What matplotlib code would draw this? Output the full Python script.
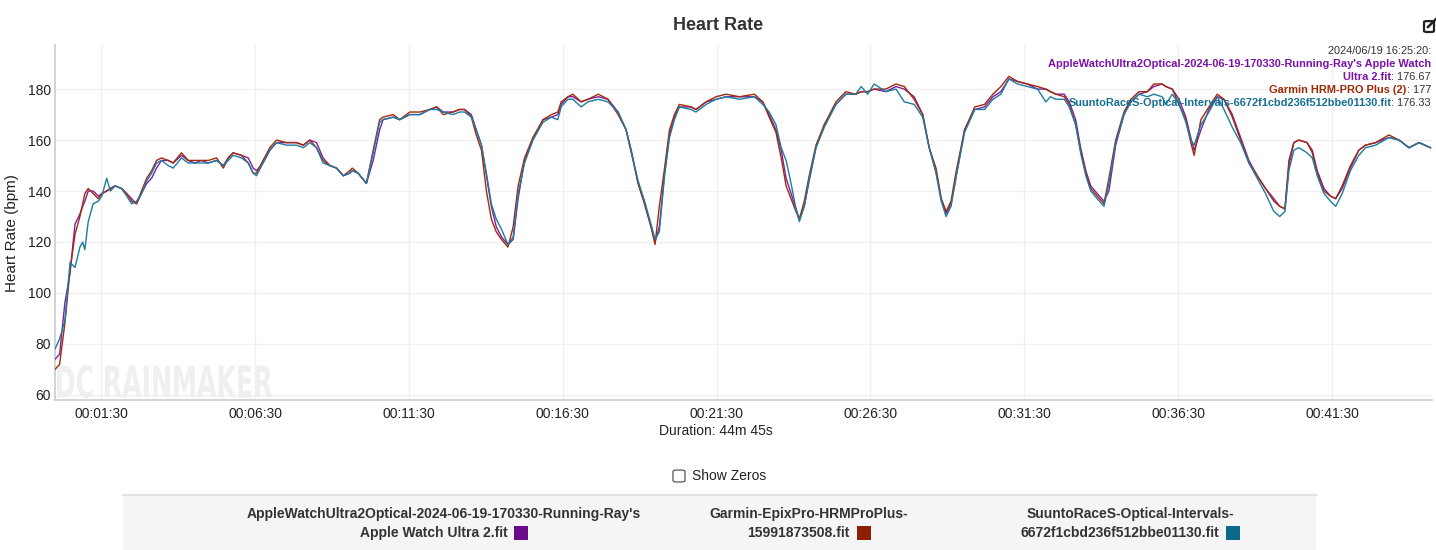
import matplotlib
matplotlib.use("Agg")
import matplotlib.pyplot as plt
import numpy as np
from matplotlib.patches import Rectangle, FancyBboxPatch, PathPatch
from matplotlib.textpath import TextPath
from matplotlib.font_manager import FontProperties
from matplotlib.transforms import Affine2D

W, H = 1436, 550
plt.rcParams["font.family"] = ["Liberation Sans", "DejaVu Sans"]

# elapsed time (minutes) shared by the three recordings
TIME_MIN = [
    0.00, 0.15, 0.32, 0.49, 0.65, 0.81, 0.90, 0.97, 1.08, 1.24,
    1.41, 1.52, 1.68, 1.80, 1.95, 2.16, 2.33, 2.49, 2.65, 2.81,
    2.98, 3.14, 3.30, 3.46, 3.68, 3.84, 4.11, 4.33, 4.55, 4.76,
    4.98, 5.25, 5.47, 5.63, 5.79, 6.06, 6.28, 6.44, 6.55, 6.76,
    6.98, 7.20, 7.52, 7.85, 8.07, 8.28, 8.50, 8.71, 8.93, 9.15,
    9.37, 9.58, 9.66, 9.85, 10.12, 10.34, 10.55, 10.66, 10.99, 11.20,
    11.53, 11.86, 12.18, 12.40, 12.62, 12.93, 13.15, 13.31, 13.53, 13.69,
    13.86, 14.02, 14.18, 14.34, 14.51, 14.72, 14.89, 15.05, 15.26, 15.53,
    15.86, 16.13, 16.34, 16.45, 16.67, 16.83, 17.10, 17.32, 17.66, 17.97,
    18.30, 18.56, 18.73, 18.95, 19.16, 19.37, 19.50, 19.64, 19.81, 19.97,
    20.13, 20.29, 20.67, 20.83, 21.16, 21.48, 21.81, 22.24, 22.73, 23.00,
    23.21, 23.43, 23.60, 23.76, 23.92, 24.08, 24.19, 24.35, 24.51, 24.73,
    25.00, 25.38, 25.70, 26.02, 26.20, 26.41, 26.62, 27.00, 27.33, 27.60,
    27.92, 28.20, 28.41, 28.63, 28.80, 28.96, 29.12, 29.29, 29.56, 29.89,
    30.21, 30.48, 30.74, 31.00, 31.28, 31.60, 31.93, 32.20, 32.35, 32.53,
    32.80, 32.96, 33.17, 33.33, 33.50, 33.66, 33.87, 34.09, 34.25, 34.47,
    34.74, 34.96, 35.23, 35.50, 35.71, 35.98, 36.10, 36.31, 36.53, 36.75,
    36.91, 37.02, 37.24, 37.50, 37.77, 37.99, 38.26, 38.53, 38.80, 39.07,
    39.34, 39.61, 39.80, 39.97, 40.10, 40.26, 40.42, 40.69, 40.86, 41.02,
    41.24, 41.45, 41.62, 41.83, 42.10, 42.37, 42.59, 42.92, 43.35, 43.68,
    44.00, 44.33, 44.70,
]

HR_APPLE = [
    74, 76, 96, 108, 127, 131, 134, 136, 140, 140,
    138, 139, 140, 141, 142, 141, 139, 137, 135, 139,
    143, 145, 149, 152, 152, 151, 154, 152, 151, 152,
    151, 152, 150, 153, 155, 154, 153, 149, 148, 151,
    156, 159, 159, 159, 158, 160, 159, 153, 150, 149,
    146, 147, 148, 147, 143, 152, 164, 168, 169, 168,
    170, 170, 172, 173, 171, 171, 172, 172, 170, 164,
    158, 146, 134, 126, 122, 119, 121, 137, 152, 160,
    168, 169, 170, 174, 177, 177, 175, 176, 177, 176,
    171, 164, 156, 143, 135, 126, 120, 126, 147, 162,
    169, 173, 173, 172, 175, 176, 177, 177, 177, 175,
    170, 164, 156, 145, 139, 133, 129, 134, 144, 157,
    166, 174, 178, 178, 179, 179, 180, 179, 181, 180,
    177, 170, 157, 148, 137, 131, 135, 146, 164, 172,
    173, 177, 179, 184, 183, 182, 180, 180, 179, 178,
    178, 175, 168, 157, 148, 142, 139, 136, 140, 158,
    170, 175, 178, 179, 181, 182, 181, 180, 176, 169,
    161, 156, 164, 172, 177, 176, 170, 161, 152, 146,
    141, 137, 134, 133, 150, 159, 160, 159, 156, 148,
    141, 138, 137, 141, 149, 156, 158, 159, 161, 160,
    157, 159, 157,
]

HR_GARMIN = [
    70, 72, 88, 109, 123, 130, 135, 139, 141, 139,
    137, 139, 140, 141, 142, 141, 139, 136, 135, 140,
    145, 148, 152, 153, 152, 151, 155, 152, 152, 152,
    152, 153, 149, 153, 155, 154, 151, 147, 147, 152,
    157, 160, 159, 159, 158, 160, 157, 152, 150, 149,
    146, 148, 149, 147, 143, 156, 168, 169, 170, 168,
    171, 171, 172, 173, 170, 171, 172, 172, 169, 162,
    156, 140, 129, 124, 121, 118, 126, 142, 153, 161,
    168, 170, 171, 175, 177, 178, 175, 176, 178, 176,
    170, 164, 155, 143, 135, 126, 119, 134, 149, 164,
    170, 174, 173, 172, 175, 177, 178, 177, 178, 175,
    169, 163, 153, 142, 137, 132, 129, 136, 146, 158,
    166, 175, 179, 178, 179, 179, 180, 180, 182, 181,
    176, 170, 157, 149, 137, 132, 136, 148, 164, 173,
    174, 178, 181, 185, 183, 182, 181, 180, 179, 178,
    177, 174, 166, 156, 147, 141, 138, 135, 145, 160,
    171, 176, 179, 179, 182, 182, 181, 180, 174, 168,
    159, 154, 168, 173, 178, 176, 169, 160, 151, 146,
    141, 136, 134, 133, 152, 159, 160, 159, 155, 147,
    140, 138, 137, 142, 150, 156, 158, 159, 162, 160,
    157, 159, 157,
]

HR_SUUNTO = [
    78, 82, 89, 112, 110, 118, 120, 117, 128, 135,
    136, 138, 145, 140, 142, 141, 138, 135, 136, 139,
    144, 147, 151, 152, 150, 149, 153, 151, 151, 151,
    151, 152, 150, 152, 154, 153, 151, 147, 146, 151,
    156, 159, 158, 158, 157, 159, 157, 151, 150, 149,
    146, 147, 148, 147, 143, 155, 167, 168, 169, 168,
    170, 170, 172, 172, 171, 170, 171, 171, 169, 164,
    158, 147, 135, 129, 125, 119, 122, 139, 151, 160,
    167, 169, 168, 173, 176, 176, 173, 175, 176, 175,
    171, 164, 155, 144, 136, 127, 121, 124, 146, 161,
    168, 173, 172, 171, 174, 176, 177, 176, 177, 174,
    171, 166, 157, 152, 143, 133, 128, 134, 145, 157,
    165, 174, 178, 178, 181, 178, 182, 179, 180, 175,
    174, 169, 157, 147, 136, 130, 134, 146, 163, 172,
    172, 176, 178, 184, 182, 181, 180, 175, 177, 176,
    176, 173, 166, 155, 146, 140, 137, 134, 143, 159,
    170, 175, 178, 177, 178, 177, 174, 178, 174, 167,
    160, 158, 166, 171, 177, 172, 165, 159, 151, 145,
    139, 132, 130, 132, 148, 156, 157, 155, 153, 146,
    139, 136, 134, 139, 148, 154, 157, 158, 161, 160,
    157, 159, 157,
]

LEGEND_LINES = [
    ("AppleWatchUltra2Optical-2024-06-19-170330-Running-Ray's", "Apple Watch Ultra 2.fit"),
    ("Garmin-EpixPro-HRMProPlus-", "15991873508.fit"),
    ("SuuntoRaceS-Optical-Intervals-", "6672f1cbd236f512bbe01130.fit"),
]
TOOLTIP_TIME = "2024/06/19 16:25:20:"
TOOLTIP_FIRST = "AppleWatchUltra2Optical-2024-06-19-170330-Running-Ray's Apple Watch"
TOOLTIP_ROWS = [
    ("Ultra 2.fit", ": 176.67"),
    ("Garmin HRM-PRO Plus (2)", ": 177"),
    ("SuuntoRaceS-Optical-Intervals-6672f1cbd236f512bbe01130.fit", ": 176.33"),
]

X_TICK_LABELS = ["00:01:30", "00:06:30", "00:11:30", "00:16:30", "00:21:30",
                 "00:26:30", "00:31:30", "00:36:30", "00:41:30"]
Y_TICKS = [60, 80, 100, 120, 140, 160, 180]
DURATION_MIN = 44.75

LINE_COLORS = ["#7e1fa6", "#a3290b", "#1c7d9d"]
SWATCH_COLORS = ["#6b0a8a", "#8b2000", "#0b6a8a"]
TIP_COLORS = ["#7a12a8", "#9b2a06", "#176f93"]

assert len(TIME_MIN) == len(HR_APPLE) == len(HR_GARMIN) == len(HR_SUUNTO)


def fx(x):
    return x / W


def fy(y):
    return 1 - y / H


def tick_minutes(label):
    h, m, s = (int(p) for p in label.split(":"))
    return h * 60 + m + s / 60


fig = plt.figure(figsize=(W / 100, H / 100), dpi=100)
ax = fig.add_axes([fx(55), fy(400), fx(1432) - fx(55), fy(45) - fy(400)])

t = np.array(TIME_MIN)
for hr, col in zip([HR_APPLE, HR_GARMIN, HR_SUUNTO], LINE_COLORS):
    ax.plot(t, hr, color=col, linewidth=1.0, zorder=3)

ax.set_xlim(0, DURATION_MIN)
ax.set_ylim(58, 197.3)
ax.set_xticks([tick_minutes(l) for l in X_TICK_LABELS])
ax.set_xticklabels(X_TICK_LABELS)
ax.set_yticks(Y_TICKS)
ax.tick_params(axis="both", length=0, labelsize=10, colors="#222222")
ax.tick_params(axis="x", pad=5)
ax.tick_params(axis="y", pad=3)
ax.grid(True, color="#f0f0f0", linewidth=1.0, zorder=0)
for side in ["top", "right"]:
    ax.spines[side].set_visible(False)
for side in ["left", "bottom"]:
    ax.spines[side].set_color("#cccccc")
    ax.spines[side].set_linewidth(1.2)

fig.text(fx(12), fy(233), "Heart Rate (bpm)", rotation=90, ha="center",
         va="center", fontsize=11, color="#222222")

# watermark
tp = TextPath((0, 0), "DC RAINMAKER", size=1,
              prop=FontProperties(family="DejaVu Sans", weight="bold"))
ext = tp.get_extents()
sx = (fx(272) - fx(57)) / ext.width
sy = (fy(365) - fy(398)) / ext.height
tr = Affine2D().translate(-ext.x0, -ext.y0).scale(sx, sy).translate(fx(57), fy(398))
ax.add_patch(PathPatch(tp, transform=tr + fig.transFigure, facecolor="#efefef",
                       edgecolor="none", zorder=1, clip_on=False))

fig.text(0.5, fy(26), "Heart Rate", ha="center", va="center", fontsize=13,
         fontweight="bold", color="#333333")
fig.text(fx(716), fy(431), "Duration: 44m 45s", ha="center", va="center",
         fontsize=10, color="#222222")

# edit icon top right
fig.patches.append(FancyBboxPatch((fx(1424), fy(32)), fx(10), fy(20) - fy(32) - 0.002,
                                  boxstyle="round,pad=0,rounding_size=0.002",
                                  transform=fig.transFigure, facecolor="none",
                                  edgecolor="#222222", linewidth=1.6))
fig.lines.append(plt.Line2D([fx(1428), fx(1436)], [fy(27), fy(19)],
                            transform=fig.transFigure, color="#222222", linewidth=1.8))

fig.canvas.draw()
renderer = fig.canvas.get_renderer()


def right_rich(y, parts, size):
    """parts laid out right to left, ending at x=1431 px."""
    x_right = 1431
    for text, color, weight in reversed(parts):
        tt = fig.text(fx(x_right), fy(y), text, ha="right", va="center",
                      fontsize=size, color=color, fontweight=weight)
        x_right -= tt.get_window_extent(renderer).width


tip_size = 7.9
right_rich(51, [(TOOLTIP_TIME, "#333333", "normal")], tip_size)
right_rich(64, [(TOOLTIP_FIRST, TIP_COLORS[0], "bold")], tip_size)
for i, (label, val) in enumerate(TOOLTIP_ROWS):
    right_rich(77 + 13 * i, [(label, TIP_COLORS[i], "bold"), (val, "#333333", "normal")],
               tip_size)

# show zeros checkbox
fig.patches.append(FancyBboxPatch((fx(673), fy(482)), fx(12), fy(470) - fy(482),
                                  boxstyle="round,pad=0,rounding_size=0.003",
                                  transform=fig.transFigure, facecolor="white",
                                  edgecolor="#666666", linewidth=1.0))
fig.text(fx(692), fy(476), "Show Zeros", ha="left", va="center", fontsize=10,
         color="#222222")

# legend panel
fig.patches.append(Rectangle((fx(123), 0), fx(1316) - fx(123), fy(495),
                             transform=fig.transFigure, facecolor="#f5f5f5",
                             edgecolor="none"))
fig.lines.append(plt.Line2D([fx(123), fx(1316)], [fy(495), fy(495)],
                            transform=fig.transFigure, color="#e2e2e2", linewidth=1.5))

centers = [444, 809, 1130]
leg_size = 10
for (l1, l2), cx, sw in zip(LEGEND_LINES, centers, SWATCH_COLORS):
    fig.text(fx(cx), fy(514), l1, ha="center", va="center", fontsize=leg_size,
             fontweight="bold", color="#333333")
    tt = fig.text(0, fy(533), l2, ha="left", va="center", fontsize=leg_size,
                  fontweight="bold", color="#333333")
    w = tt.get_window_extent(renderer).width
    x0 = cx - (w + 7 + 14) / 2
    tt.set_x(fx(x0))
    fig.patches.append(Rectangle((fx(x0 + w + 7), fy(540)), fx(14), fy(526) - fy(540),
                                 transform=fig.transFigure, facecolor=sw,
                                 edgecolor="none"))

fig.savefig("out.png", dpi=100)
